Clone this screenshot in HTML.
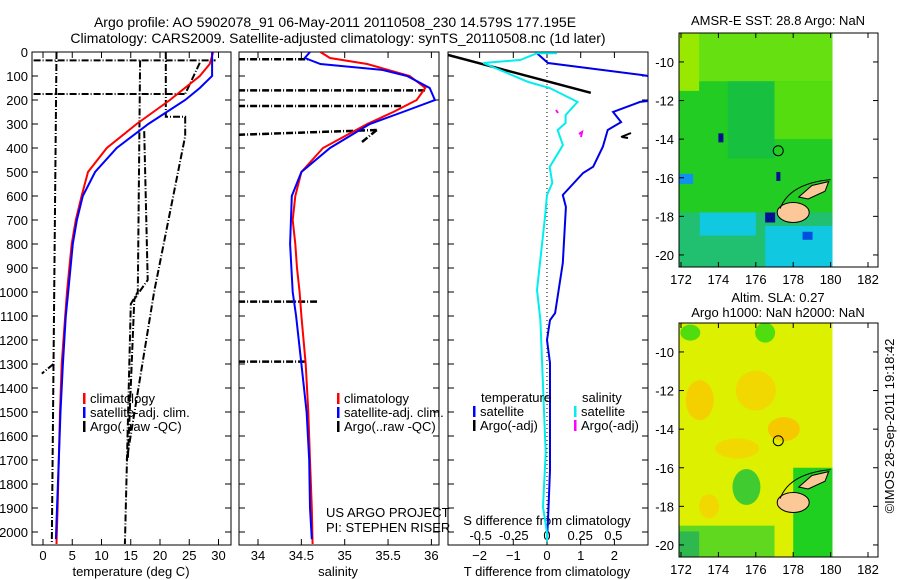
<!DOCTYPE html>
<html><head><meta charset="utf-8"><style>
body{margin:0;background:#fff;}
svg{display:block;font-family:"Liberation Sans",sans-serif;}
</style></head><body>
<svg id="c" width="900" height="580" viewBox="0 0 900 580">
<text x="335" y="27" font-size="14" text-anchor="middle">Argo profile: AO 5902078_91 06-May-2011 20110508_230 14.579S 177.195E</text>
<text x="338" y="43" font-size="14" text-anchor="middle">Climatology: CARS2009. Satellite-adjusted climatology: synTS_20110508.nc (1d later)</text>
<g id="maps"></g>
<g id="plots"></g>
</svg>
<script>
// ---- data ----
const tDepth=[0,50,100,200,300,400,500,600,700,800,900,1000,1100,1300,1500,1700,1900,2050];
const tClim=[29.1,28.5,26.8,21.7,16,10.9,7.7,6.6,5.6,4.9,4.5,4.1,3.8,3.2,2.9,2.7,2.5,2.3];
const tSatDepth=[0,100,150,200,300,400,500,600,700,800,900,1000,1100,1300,1500,1700,1900,2030];
const tSat=[28.9,28.9,26.8,24.3,18,12.6,8.9,6.8,5.8,5.1,4.7,4.3,3.9,3.4,3.0,2.7,2.4,2.2];
const sDepth=[0,25,50,100,150,200,250,300,400,500,600,700,800,900,1000,1100,1300,1500,1700,1900,2050];
const sClim=[34.72,34.83,35.26,35.75,35.93,35.83,35.56,35.26,34.75,34.5,34.43,34.4,34.43,34.45,34.48,34.5,34.55,34.58,34.6,34.62,34.63];
const sSatDepth=[0,25,50,75,100,150,200,250,300,400,500,600,800,1000,1100,1300,1500,1700,1900,2030];
const sSat=[34.6,34.54,34.72,35.44,35.72,35.98,36.04,35.67,35.29,34.83,34.5,34.39,34.37,34.4,34.44,34.5,34.56,34.59,34.6,34.62];
const dtDepth=[5,46,95,130,180,208,250,292,325,394,478,504,596,646,879,1088,1117,1200,1296,1742,1950,2030];
const dtSat=[-0.3,0.03,2.76,4.5,4.5,2.76,1.96,2.2,1.8,1.66,1.37,1.07,0.47,0.56,0.47,0.24,0.09,0,0.09,0.09,0.03,0.0];
const dsDepth=[5,5,33,46,125,150,208,263,296,325,388,479,546,596,688,992,1117,1254,1671,1896,2004,2040];
const dsSat=[0.075,-0.075,-0.2,-0.48,-0.14,0.02,0.23,0.14,0.14,0.08,0.12,0.02,0.04,0,-0.015,-0.075,-0.05,-0.04,-0.01,-0.03,0,0];
const depthTicks=[0,100,200,300,400,500,600,700,800,900,1000,1100,1200,1300,1400,1500,1600,1700,1800,1900,2000];
const tTicks=[0,5,10,15,20,25,30];
const sTicks=[34,34.5,35,35.5,36];
const dtTicks=[-2,-1,0,1,2];
const dsTicks=[-0.5,-0.25,0,0.25,0.5];
const argoT=[
 [[0,2050],[2.3,1.5]],
 [[35,35],[-1.6,29.5]],
 [[175,175],[-1.6,24.3]],
 [[45,175],[26.8,24.3]],
 [[35,1000,1050,2050],[16.6,16.2,15,14]],
 [[0,270,270,350,1000,1700],[21,21,24.3,24.3,19,14.3]],
 [[330,950,1030,1700],[17.3,17.9,15.6,14.5]],
 [[1300,1340],[1.8,-0.2]]];
const argoS=[
 [[30,30],[33.77,34.6]],[[160,160],[33.77,35.93]],[[225,225],[33.77,35.65]],
 [[345,325],[33.77,35.37]],[[375,325],[35.2,35.37]],
 [[1040,1040],[33.77,34.68]],[[1290,1290],[33.77,34.54]]];
const argoDT=[[[10,170],[-3,1.3]]];

// ---- axes ----
const Y0=52,Y1=545,yD=d=>Y0+d*0.24;
const xT=t=>43+t*5.85, xS=s=>258+(s-34)*86.7, xDT=t=>547+t*33.7, xDS=s=>547+s*132.7;
const NS="http://www.w3.org/2000/svg";
const P=document.getElementById('plots');
function el(tag,attrs,parent){const e=document.createElementNS(NS,tag);for(const k in attrs)e.setAttribute(k,attrs[k]);(parent||P).appendChild(e);return e;}
function txt(x,y,s,anchor,size,parent){const e=el('text',{x:x,y:y,'font-size':size||13,'text-anchor':anchor||'middle'},parent);e.textContent=s;return e;}
function line(xs,ys,color,w,dash,clip){const pts=xs.map((x,i)=>x.toFixed(1)+','+ys[i].toFixed(1)).join(' ');const a={points:pts,fill:'none',stroke:color,'stroke-width':w};if(dash)a['stroke-dasharray']=dash;if(clip)a['clip-path']='url(#'+clip+')';return el('polyline',a);}
const defs=el('defs',{});
[['c1',32,231],['c2',239,439],['c3',448,648]].forEach(([id,a,b])=>{const cp=el('clipPath',{id:id},defs);el('rect',{x:a,y:Y0,width:b-a,height:Y1-Y0},cp);});

function frame(x0,x1,name){const r=el('rect',{x:x0,y:Y0,width:x1-x0,height:Y1-Y0,fill:'none',stroke:'#000','stroke-width':1});


depthTicks.forEach(d=>{el('line',{x1:x0,x2:x0+6,y1:yD(d),y2:yD(d),stroke:'#000'});el('line',{x1:x1,x2:x1-6,y1:yD(d),y2:yD(d),stroke:'#000'});});}
frame(32,231,'temperature-axes');frame(239,439,'salinity-axes');frame(448,648,'difference-axes');
depthTicks.forEach(d=>{const t=txt(28,yD(d)+5,String(d),'end',13);

});
tTicks.forEach(v=>{el('line',{x1:xT(v),x2:xT(v),y1:Y1,y2:Y1-6,stroke:'#000'});el('line',{x1:xT(v),x2:xT(v),y1:Y0,y2:Y0+6,stroke:'#000'});
const t=txt(xT(v),560,String(v));

});
sTicks.forEach(v=>{el('line',{x1:xS(v),x2:xS(v),y1:Y1,y2:Y1-6,stroke:'#000'});el('line',{x1:xS(v),x2:xS(v),y1:Y0,y2:Y0+6,stroke:'#000'});
const t=txt(xS(v),560,String(v));

});
dtTicks.forEach(v=>{el('line',{x1:xDT(v),x2:xDT(v),y1:Y1,y2:Y1-6,stroke:'#000'});el('line',{x1:xDT(v),x2:xDT(v),y1:Y0,y2:Y0+6,stroke:'#000'});
const t=txt(xDT(v),560,String(v).replace('-','−'));

});
dsTicks.forEach(v=>{const t=txt(xDS(v),540,String(v));

});
let t;
t=txt(131,576,'temperature (deg C)');
t=txt(338,576,'salinity');
t=txt(547,576,'T difference from climatology');
t=txt(547,525,'S difference from climatology');
t=txt(326,517,'US ARGO PROJECT','start');
t=txt(326,532,'PI: STEPHEN RISER','start');
el('line',{x1:547,x2:547,y1:Y0,y2:Y1,stroke:'#000','stroke-dasharray':'1,3'});

// series
const DD='7,2,1,2';
argoT.forEach(a=>{const l=line(a[1].map(xT),a[0].map(yD),'#000',2,DD,'c1');});
let l;
l=line(tClim.map(xT),tDepth.map(yD),'#f00',2,null,'c1');
l=line(tSat.map(xT),tSatDepth.map(yD),'#00f',2,null,'c1');
argoS.forEach(a=>{const l=line(a[1].map(xS),a[0].map(yD),'#000',2.5,DD,'c2');});
l=line(sClim.map(xS),sDepth.map(yD),'#f00',2,null,'c2');
l=line(sSat.map(xS),sSatDepth.map(yD),'#00f',2,null,'c2');
argoDT.forEach(a=>{const l=line(a[1].map(xDT),a[0].map(yD),'#000',2.5,null,'c3');});
l=line(dtSat.map(xDT),dtDepth.map(yD),'#0000e8',2,null,'c3');
l=line(dsSat.map(xDS),dsDepth.map(yD),'#0ee',2,null,'c3');
el('path',{d:'M556,110 l2,3 M579,134 l3,-2 l-1,5',stroke:'#f0f','stroke-width':2,fill:'none'});
el('path',{d:'M621,137 l10,-4 M622,137 l6,1',stroke:'#000','stroke-width':2,fill:'none'});

// legends
function legend(x,y,color,label){el('rect',{x:x,y:y-10,width:2.5,height:11,fill:color});const t=txt(x+7,y,label,'start',13);}
legend(83,403,'#f00','climatology');legend(83,417,'#00f','satellite-adj. clim.');legend(83,431,'#000','Argo(..raw -QC)');
legend(337,403,'#f00','climatology');legend(337,417,'#00f','satellite-adj. clim.');legend(337,431,'#000','Argo(..raw -QC)');
t=txt(481,402,'temperature','start');
t=txt(582,402,'salinity','start');
legend(473,416,'#00f','satellite');legend(473,430,'#000','Argo(-adj)');
legend(574,416,'#0ee','satellite');legend(574,430,'#f0f','Argo(-adj)');

// ---- maps ----
const M=document.getElementById('maps');
function map(top,name,kind){
 const bot=top+234, lx=l=>681+(l-172)*18.7, ly=la=>top+(-8.5-la)*19.3;
 const g=el('g',{},M);
 const x0=lx(171.9),x1=lx(180.1),y0=top,y1=bot;
 if(kind==1){
  el('rect',{x:x0,y:y0,width:x1-x0,height:y1-y0,fill:'#22cc22'},g);
  el('rect',{x:x0,y:y0,width:x1-x0,height:ly(-11)-y0,fill:'#66e010'},g);
  el('rect',{x:lx(176.5),y:ly(-11),width:x1-lx(176.5),height:ly(-14)-ly(-11),fill:'#55dd10'},g);
  el('rect',{x:x0,y:y0,width:20,height:ly(-11.5)-y0,fill:'#99e800'},g);
  el('rect',{x:lx(174.5),y:ly(-11),width:lx(177)-lx(174.5),height:ly(-15)-ly(-11),fill:'#18c040'},g);
  el('rect',{x:x0,y:ly(-17.8),width:x1-x0,height:y1-ly(-17.8),fill:'#20c070'},g);
  el('rect',{x:lx(173),y:ly(-17.8),width:lx(176)-lx(173),height:ly(-19)-ly(-17.8),fill:'#10c8e0'},g);
  el('rect',{x:lx(176.5),y:ly(-18.5),width:x1-lx(176.5),height:ly(-20.6)-ly(-18.5),fill:'#10c8e0'},g);
  el('rect',{x:x0,y:ly(-15.8),width:14,height:10,fill:'#1090f0'},g);
  el('rect',{x:lx(176.5),y:ly(-17.8),width:10,height:10,fill:'#001090'},g);
  el('rect',{x:lx(178.5),y:ly(-18.8),width:10,height:8,fill:'#0050e0'},g);
  el('rect',{x:lx(174),y:ly(-13.7),width:5,height:9,fill:'#001090'},g);
  el('rect',{x:lx(177.1),y:ly(-15.7),width:4,height:9,fill:'#001090'},g);
 } else {
  el('rect',{x:x0,y:y0,width:x1-x0,height:y1-y0,fill:'#ddf000'},g);
  el('ellipse',{cx:lx(173),cy:ly(-12.5),rx:14,ry:20,fill:'#f5d000'},g);
  el('ellipse',{cx:lx(176),cy:ly(-12),rx:20,ry:20,fill:'#f0d800'},g);
  el('ellipse',{cx:lx(177.5),cy:ly(-14),rx:16,ry:12,fill:'#f5c800'},g);
  el('ellipse',{cx:lx(175),cy:ly(-15),rx:22,ry:10,fill:'#f0d800'},g);
  el('ellipse',{cx:lx(175.5),cy:ly(-17),rx:14,ry:18,fill:'#40cc30'},g);
  el('ellipse',{cx:lx(173.5),cy:ly(-18),rx:10,ry:12,fill:'#f0d800'},g);
  el('rect',{x:lx(178),y:ly(-16),width:x1-lx(178),height:ly(-20.6)-ly(-16),fill:'#20d020'},g);
  el('rect',{x:x0,y:ly(-19),width:lx(177)-x0,height:ly(-20.6)-ly(-19),fill:'#60d820'},g);
  el('rect',{x:x0,y:ly(-19.3),width:20,height:ly(-20.6)-ly(-19.3),fill:'#30b850'},g);
  el('ellipse',{cx:lx(176.5),cy:ly(-9),rx:10,ry:10,fill:'#50dd10'},g);
  el('ellipse',{cx:lx(172.5),cy:ly(-9),rx:10,ry:8,fill:'#50dd10'},g);
 }
 el('ellipse',{cx:lx(178),cy:ly(-17.8),rx:16,ry:10,fill:'#fcc898',stroke:'#000','stroke-width':1},g);
 el('polygon',{points:`${lx(178.3)},${ly(-17)} ${lx(179)},${ly(-16.4)} ${lx(179.9)},${ly(-16.2)} ${lx(179.7)},${ly(-16.7)} ${lx(178.8)},${ly(-17.1)}`,fill:'#fcc898',stroke:'#000'},g);
 el('path',{d:`M${lx(177.3)},${ly(-17.6)} Q${lx(177.8)},${ly(-16.3)} ${lx(180)},${ly(-16.1)}`,fill:'none',stroke:'#000'},g);
 el('circle',{cx:lx(177.2),cy:ly(-14.6),r:5,fill:'none',stroke:'#000'},g);
 el('rect',{x:679,y:top,width:199,height:234,fill:'none',stroke:'#000'},g);
 [172,174,176,178,180,182].forEach(v=>{el('line',{x1:lx(v),x2:lx(v),y1:bot,y2:bot-5,stroke:'#000'},g);el('line',{x1:lx(v),x2:lx(v),y1:top,y2:top+5,stroke:'#000'},g);
  const t=txt(lx(v),bot+17,String(v),'middle',13,g);});
 [-10,-12,-14,-16,-18,-20].forEach(v=>{el('line',{x1:679,x2:684,y1:ly(v),y2:ly(v),stroke:'#000'},g);el('line',{x1:878,x2:873,y1:ly(v),y2:ly(v),stroke:'#000'},g);
  const t=txt(674,ly(v)+5,String(v),'end',13,g);});
}
map(33,'sst-map',1);map(323,'sla-map',2);
t=txt(778,25,'AMSR-E SST: 28.8 Argo: NaN','middle',13,M);
t=txt(778,302,'Altim. SLA: 0.27','middle',13,M);
t=txt(778,317,'Argo h1000: NaN h2000: NaN','middle',13,M);
t=txt(0,0,'©IMOS 28-Sep-2011 19:18:42','middle',13,M);t.setAttribute('transform','translate(894,426) rotate(-90)');
</script>
</body></html>
